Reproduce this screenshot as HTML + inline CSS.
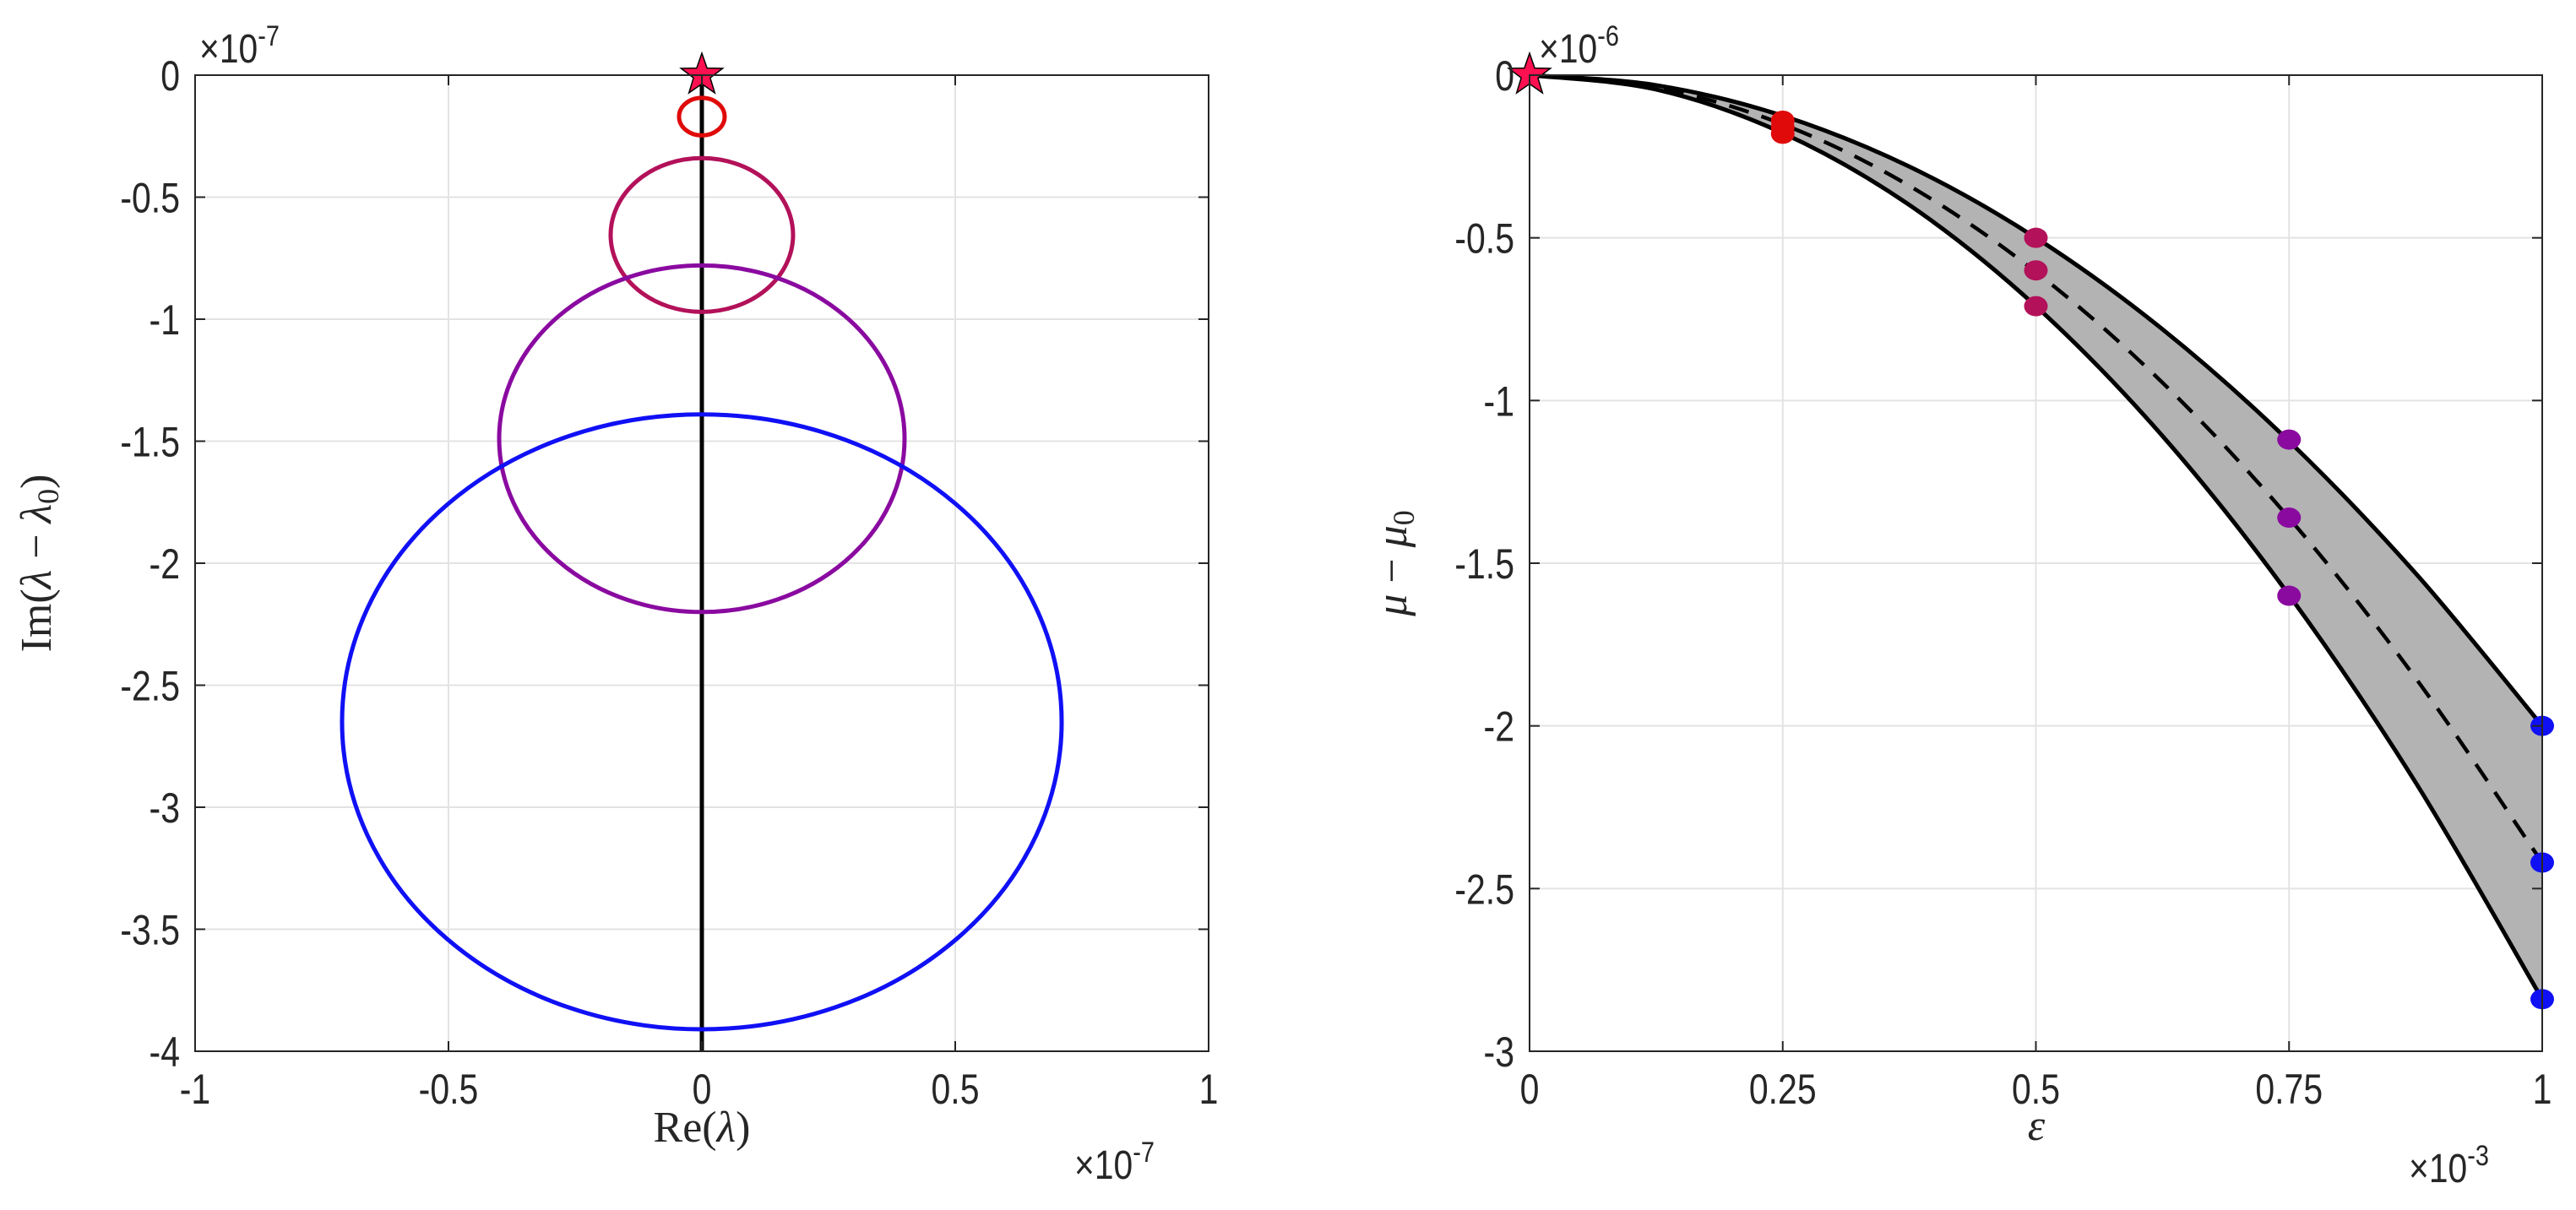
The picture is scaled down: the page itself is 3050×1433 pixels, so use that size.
<!DOCTYPE html>
<html><head><meta charset="utf-8"><style>
html,body{margin:0;padding:0;background:#fff;}
svg text{font-family:"Liberation Sans",sans-serif;fill:#262626;}
</style></head><body>
<svg id="fig" width="3050" height="1428" viewBox="0 0 3050 1428" xmlns="http://www.w3.org/2000/svg">
<g id="left"></g>
<g id="right"></g>
</svg>
<script>
// Left panel data (units 1e-7)
const leftXTicks=[-1,-0.5,0,0.5,1];
const leftXTickLabels=["-1","-0.5","0","0.5","1"];
const leftYTicks=[0,-0.5,-1,-1.5,-2,-2.5,-3,-3.5,-4];
const leftYTickLabels=["0","-0.5","-1","-1.5","-2","-2.5","-3","-3.5","-4"];
const ellipseNames=["red","crimson","purple","blue"];
const ellipseCY=[-0.17,-0.655,-1.49,-2.65];
const ellipseRX=[0.045,0.18,0.40,0.71];
const ellipseRY=[0.077,0.315,0.71,1.26];
const ellipseColors=["#e00a0a","#b3115a","#8a0aa0","#1010f5"];
// Right panel data (eps in 1e-3, mu in 1e-6)
const rightXTicks=[0,0.25,0.5,0.75,1];
const rightXTickLabels=["0","0.25","0.5","0.75","1"];
const rightYTicks=[0,-0.5,-1,-1.5,-2,-2.5,-3];
const rightYTickLabels=["0","-0.5","-1","-1.5","-2","-2.5","-3"];
const epsGrid=[0,0.125,0.25,0.375,0.5,0.625,0.75,0.875,1];
const upperCurve=[0,-0.031,-0.125,-0.281,-0.5,-0.781,-1.125,-1.531,-2.0];
const midCurve=[0,-0.038,-0.151,-0.340,-0.605,-0.945,-1.361,-1.853,-2.42];
const lowerCurve=[0,-0.044,-0.178,-0.399,-0.71,-1.109,-1.598,-2.174,-2.84];
const dotEps=[0.25,0.5,0.75,1];
const dotUpper=[-0.14,-0.5,-1.12,-2.0];
const dotMid=[-0.16,-0.6,-1.36,-2.42];
const dotLower=[-0.18,-0.71,-1.6,-2.84];
const dotColors=["#e00a0a","#b3115a","#8a0aa0","#1010f5"];

const NS="http://www.w3.org/2000/svg";
function mk(p,tag,at,txt){const e=document.createElementNS(NS,tag);for(const k in at)e.setAttribute(k,at[k]);if(txt!==undefined)e.textContent=txt;p.appendChild(e);return e;}
function star(cx,cy,R){let pts=[];for(let i=0;i<10;i++){const r=i%2?R*0.4:R;const a=-Math.PI/2+i*Math.PI/5;pts.push((cx+r*Math.cos(a)).toFixed(1)+","+(cy+r*Math.sin(a)).toFixed(1));}return pts.join(" ");}
function smooth(xs,ys){let d="M"+xs[0]+","+ys[0];for(let i=0;i<xs.length-1;i++){const x0=xs[Math.max(i-1,0)],y0=ys[Math.max(i-1,0)],x1=xs[i],y1=ys[i],x2=xs[i+1],y2=ys[i+1],x3=xs[Math.min(i+2,xs.length-1)],y3=ys[Math.min(i+2,xs.length-1)];d+=" C"+(x1+(x2-x0)/6)+","+(y1+(y2-y0)/6)+" "+(x2-(x3-x1)/6)+","+(y2-(y3-y1)/6)+" "+x2+","+y2;}return d;}

function axes(g,L,R,T,B,sx,sy,xt,xtl,yt,ytl,namePrefix){
  const grid=mk(g,"g",{});
  
  
  xt.forEach(v=>mk(grid,"line",{x1:sx(v),x2:sx(v),y1:T,y2:B,stroke:"#e3e3e3","stroke-width":2}));
  yt.forEach(v=>mk(grid,"line",{x1:L,x2:R,y1:sy(v),y2:sy(v),stroke:"#e3e3e3","stroke-width":2}));
}
function lbl(g,x,y,anchor,txt){return mk(g,"text",{x:0,y:0,"text-anchor":anchor,"font-size":50,transform:"translate("+x+","+y+") scale(0.82,1)"},txt);}
function frame(g,L,R,T,B,sx,sy,xt,xtl,yt,ytl,namePrefix){
  const f=mk(g,"rect",{x:L,y:T,width:R-L,height:B-T,fill:"none",stroke:"#262626","stroke-width":2});
  
  
  xt.forEach((v,i)=>{const x=sx(v);mk(g,"line",{x1:x,x2:x,y1:B,y2:B-12,stroke:"#262626","stroke-width":2});mk(g,"line",{x1:x,x2:x,y1:T,y2:T+12,stroke:"#262626","stroke-width":2});
    const t=lbl(g,x,B+62,"middle",xtl[i]);
    
    });
  yt.forEach((v,i)=>{const y=sy(v);mk(g,"line",{x1:L,x2:L+12,y1:y,y2:y,stroke:"#262626","stroke-width":2});mk(g,"line",{x1:R,x2:R-12,y1:y,y2:y,stroke:"#262626","stroke-width":2});
    const t=lbl(g,L-18,y+18,"end",ytl[i]);
    
    });
}
function expo(g,x,y,e,name){const t=mk(g,"text",{x:0,y:0,"font-size":48,transform:"translate("+x+","+y+") scale(0.85,1)"});
  mk(t,"tspan",{},"×10");mk(t,"tspan",{dy:-20,"font-size":34},e);}

// LEFT
(function(){
const g=document.getElementById("left");
const L=231,R=1431,T=89,B=1245;
const sx=v=>L+(v+1)/2*(R-L), sy=v=>T+(-v)/4*(B-T);
axes(g,L,R,T,B,sx,sy,leftXTicks,leftXTickLabels,leftYTicks,leftYTickLabels,"left");
const vl=mk(g,"line",{x1:sx(0),x2:sx(0),y1:sy(0),y2:sy(-4),stroke:"#000","stroke-width":5});


ellipseCY.forEach((cy,i)=>{const e=mk(g,"ellipse",{cx:sx(0),cy:sy(cy),rx:sx(ellipseRX[i])-sx(0),ry:sy(cy-ellipseRY[i])-sy(cy),fill:"none",stroke:ellipseColors[i],"stroke-width":5});
  
  });
const s=mk(g,"polygon",{points:star(sx(0),sy(0),26),fill:"#ff1050",stroke:"#000","stroke-width":1.5});


frame(g,L,R,T,B,sx,sy,leftXTicks,leftXTickLabels,leftYTicks,leftYTickLabels,"left");
expo(g,236,74,"-7","left-y-exponent");
expo(g,1272,1396,"-7","left-x-exponent");
const xl=mk(g,"text",{x:831,y:1352,"text-anchor":"middle","font-size":52,style:"font-family:'Liberation Serif',serif"});

mk(xl,"tspan",{},"Re(");mk(xl,"tspan",{"font-style":"italic"},"λ");mk(xl,"tspan",{},")");
const yl=mk(g,"text",{x:0,y:0,"text-anchor":"middle","font-size":52,transform:"translate(60,667) rotate(-90)",style:"font-family:'Liberation Serif',serif"});

mk(yl,"tspan",{},"Im(");mk(yl,"tspan",{"font-style":"italic"},"λ");mk(yl,"tspan",{}," − ");mk(yl,"tspan",{"font-style":"italic"},"λ");mk(yl,"tspan",{dy:9,"font-size":36},"0");mk(yl,"tspan",{dy:-9},")");
})();

// RIGHT
(function(){
const g=document.getElementById("right");
const L=1811,R=3010,T=89,B=1245;
const sx=v=>L+v*(R-L), sy=v=>T+(-v)/3*(B-T);
axes(g,L,R,T,B,sx,sy,rightXTicks,rightXTickLabels,rightYTicks,rightYTickLabels,"right");
const xs=epsGrid.map(sx);
const up=upperCurve.map(sy), lo=lowerCurve.map(sy), md=midCurve.map(sy);
let band=smooth(xs,up);
const rx=xs.slice().reverse(), rl=lo.slice().reverse();
band+=" L"+rx[0]+","+rl[0]+smooth(rx,rl).slice(1).replace(/^[^C]*/," ")+" Z";
const b=mk(g,"path",{d:band,fill:"#b3b3b3",stroke:"none"});

const u=mk(g,"path",{d:smooth(xs,up),fill:"none",stroke:"#000","stroke-width":5});

const l=mk(g,"path",{d:smooth(xs,lo),fill:"none",stroke:"#000","stroke-width":5});

const m=mk(g,"path",{d:smooth(xs,md),fill:"none",stroke:"#000","stroke-width":4.5,"stroke-dasharray":"24,16"});

dotEps.forEach((e,i)=>{[dotUpper[i],dotMid[i],dotLower[i]].forEach(v=>{
  const c=mk(g,"ellipse",{cx:sx(e),cy:sy(v),rx:14,ry:12,fill:dotColors[i]});
  
  });});
const s=mk(g,"polygon",{points:star(sx(0),sy(0),26),fill:"#ff1050",stroke:"#000","stroke-width":1.5});

frame(g,L,R,T,B,sx,sy,rightXTicks,rightXTickLabels,rightYTicks,rightYTickLabels,"right");
expo(g,1822,74,"-6","right-y-exponent");
expo(g,2852,1400,"-3","right-x-exponent");
const xl=mk(g,"text",{x:2411,y:1350,"text-anchor":"middle","font-size":52,"font-style":"italic",style:"font-family:'Liberation Serif',serif"},"ε");

const yl=mk(g,"text",{x:0,y:0,"text-anchor":"middle","font-size":52,transform:"translate(1665,667) rotate(-90)",style:"font-family:'Liberation Serif',serif"});

mk(yl,"tspan",{"font-style":"italic"},"μ");mk(yl,"tspan",{}," − ");mk(yl,"tspan",{"font-style":"italic"},"μ");mk(yl,"tspan",{dy:9,"font-size":36},"0");
})();
</script>
</body></html>
